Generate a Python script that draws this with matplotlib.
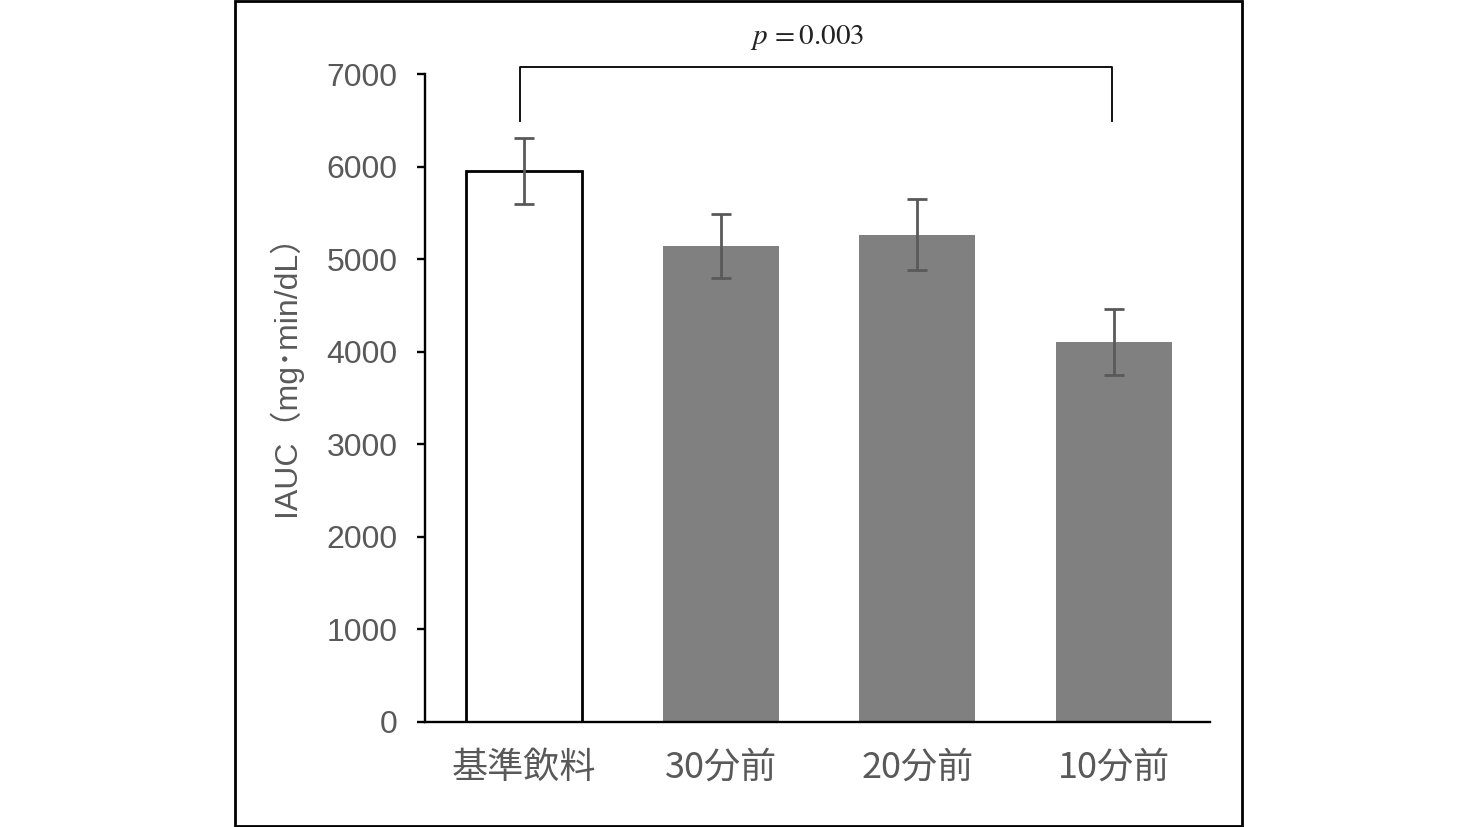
import matplotlib
matplotlib.use("Agg")
import matplotlib.pyplot as plt
from matplotlib.patches import Rectangle

# data
groups = ["基準飲料", "30分前", "20分前", "10分前"]
iauc = [5950, 5145, 5265, 4105]
err = [355, 345, 385, 360]
bar_colors = ["white", "#808080", "#808080", "#808080"]
edge_colors = ["black", "none", "none", "none"]
y_ticks = [0, 1000, 2000, 3000, 4000, 5000, 6000, 7000]
bracket_y = [6490, 7075]
p_label = r"$p\,=0.003$"

plt.rcParams["font.family"] = ["Liberation Sans", "Noto Sans CJK JP", "DejaVu Sans"]
plt.rcParams["mathtext.fontset"] = "stix"

fig = plt.figure(figsize=(14.78, 8.27), dpi=100)
ax = fig.add_axes([0.2876, 0.1270, 0.5311, 0.7835])

x = list(range(len(groups)))
ax.bar(x, iauc, width=0.59, color=bar_colors, edgecolor=edge_colors, linewidth=2)
ax.errorbar(x, iauc, yerr=err, fmt="none", ecolor="#595959", elinewidth=2,
            capsize=7.5, capthick=2)

ax.set_xlim(-0.504, 3.49)
ax.set_ylim(0, 7000)
ax.set_yticks(y_ticks)
ax.set_yticklabels([str(v) for v in y_ticks])
ax.set_xticks(x)
ax.set_xticklabels(groups, family=["Noto Sans CJK JP"], fontsize=26)
ax.tick_params(axis="y", labelsize=23, labelcolor="#595959", direction="out",
               length=6, width=1.7, color="black", pad=14)
ax.tick_params(axis="x", length=0, labelcolor="#595959", pad=20)

for s in ["top", "right"]:
    ax.spines[s].set_visible(False)
for s in ["left", "bottom"]:
    ax.spines[s].set_linewidth(1.7)

ax.set_ylabel("IAUC（mg･min/dL）", fontsize=23, color="#595959",
              family=["Liberation Sans", "Noto Sans CJK JP"])
ax.yaxis.set_label_coords(-0.157, 0.548)

# significance bracket
ax.plot([-0.02, -0.02, 2.99, 2.99],
        [bracket_y[0], bracket_y[1], bracket_y[1], bracket_y[0]],
        color="black", lw=1.3, clip_on=False)
ax.text(1.44, 7390, p_label, ha="center", va="center", fontsize=21,
        color="#222222", clip_on=False)

# outer frame
fig.patches.append(Rectangle((235 / 1478, 1 / 827), 1007 / 1478, 825 / 827,
                             transform=fig.transFigure, fill=False,
                             edgecolor="black", linewidth=2))

fig.savefig("out.png", dpi=100)
